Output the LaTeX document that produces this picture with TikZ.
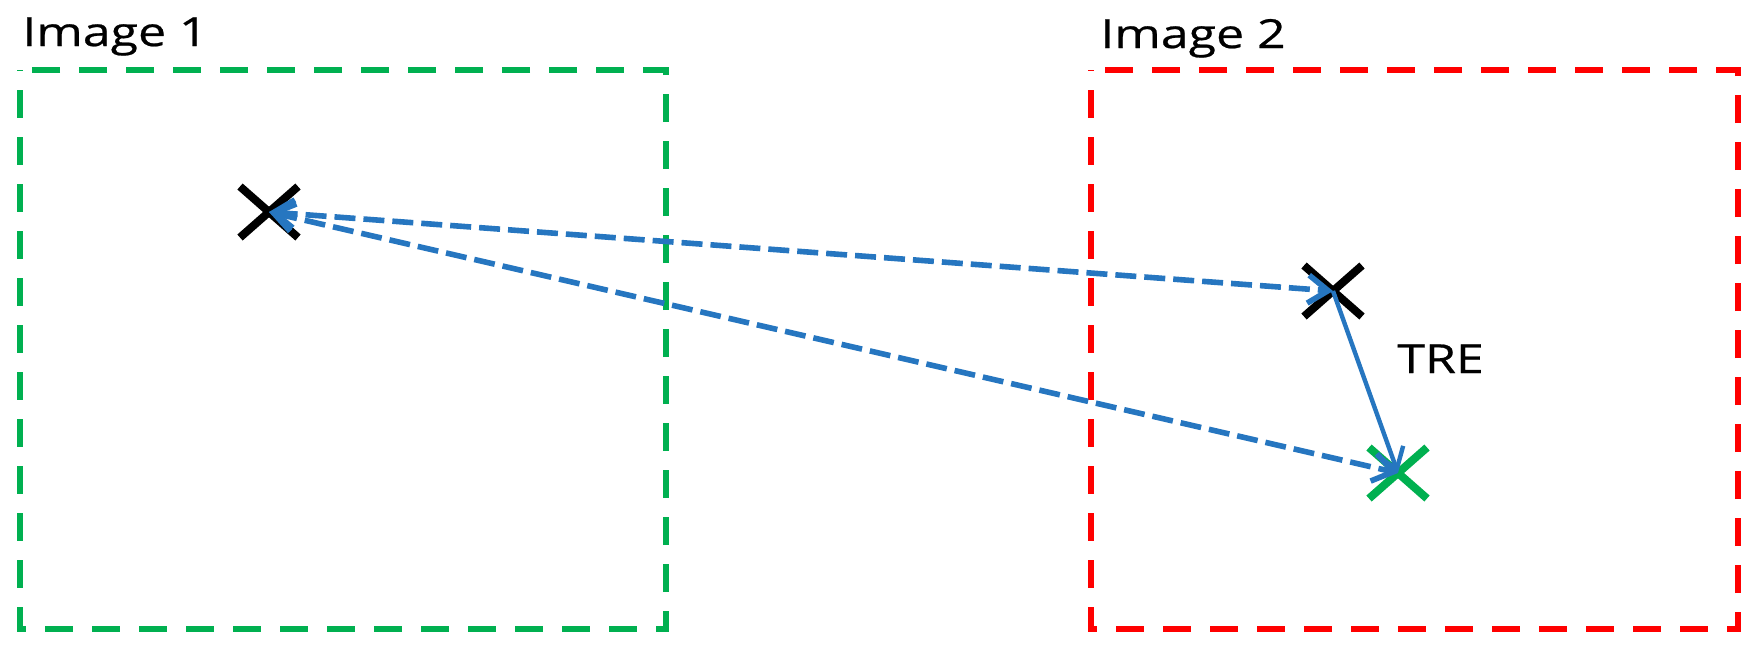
\documentclass[tikz,border=0pt]{standalone}
\usepackage{tikz}
\usetikzlibrary{arrows.meta,shapes.misc,positioning}
\usepackage{fontspec}
\newfontfamily\lblfont[FakeStretch=1.25,FakeBold=0.6]{Open Sans}
\definecolor{boxgreen}{RGB}{0,176,80}
\definecolor{boxred}{RGB}{255,0,0}
\definecolor{arrblue}{RGB}{38,118,192}

\begin{document}
\begin{tikzpicture}[x=0.5pt,y=-0.5pt,
    lbl/.style={anchor=base west,inner sep=0pt,font=\lblfont\fontsize{20}{24}\selectfont},
    frame/.style={line width=3.2pt,dash pattern=on 14pt off 9.5pt,dash phase=-10pt},
    xmark/.style={cross out,draw,line width=4pt,inner sep=0pt,minimum width=25pt,minimum height=21.5pt},
    link/.style={arrblue,line width=2.8pt,dash pattern=on 10.5pt off 4pt,
      {Straight Barb[length=10pt,width=14pt,line width=2.8pt]}-{Straight Barb[length=10pt,width=14pt,line width=2.8pt]}},
    tre/.style={arrblue,line width=2.2pt,-{Straight Barb[length=10pt,width=14pt,line width=2.2pt]}}]
    \useasboundingbox (0,0) rectangle (1762,655);
    \draw[frame,boxgreen] (20,70) rectangle (666,629);
    \draw[frame,boxred] (1091,70) rectangle (1738,629);
    \node[lbl] (L1) at (22,46) {Image 1};
    \node[lbl] (L2) at (1100,48) {Image 2};
    \node[xmark,black] (P1) at (269,212) {};
    \node[xmark,black] (P2) at (1333,291) {};
    \node[xmark,boxgreen] (Q2) at (1398,473) {};
    \draw[link] (P1.center) -- (P2.center);
    \draw[link] (P1.center) -- (Q2.center);
    \draw[tre] (P2.center) -- (Q2.center);
    \node[lbl] (T) at (1397,373) {TRE};
\end{tikzpicture}
\end{document}
